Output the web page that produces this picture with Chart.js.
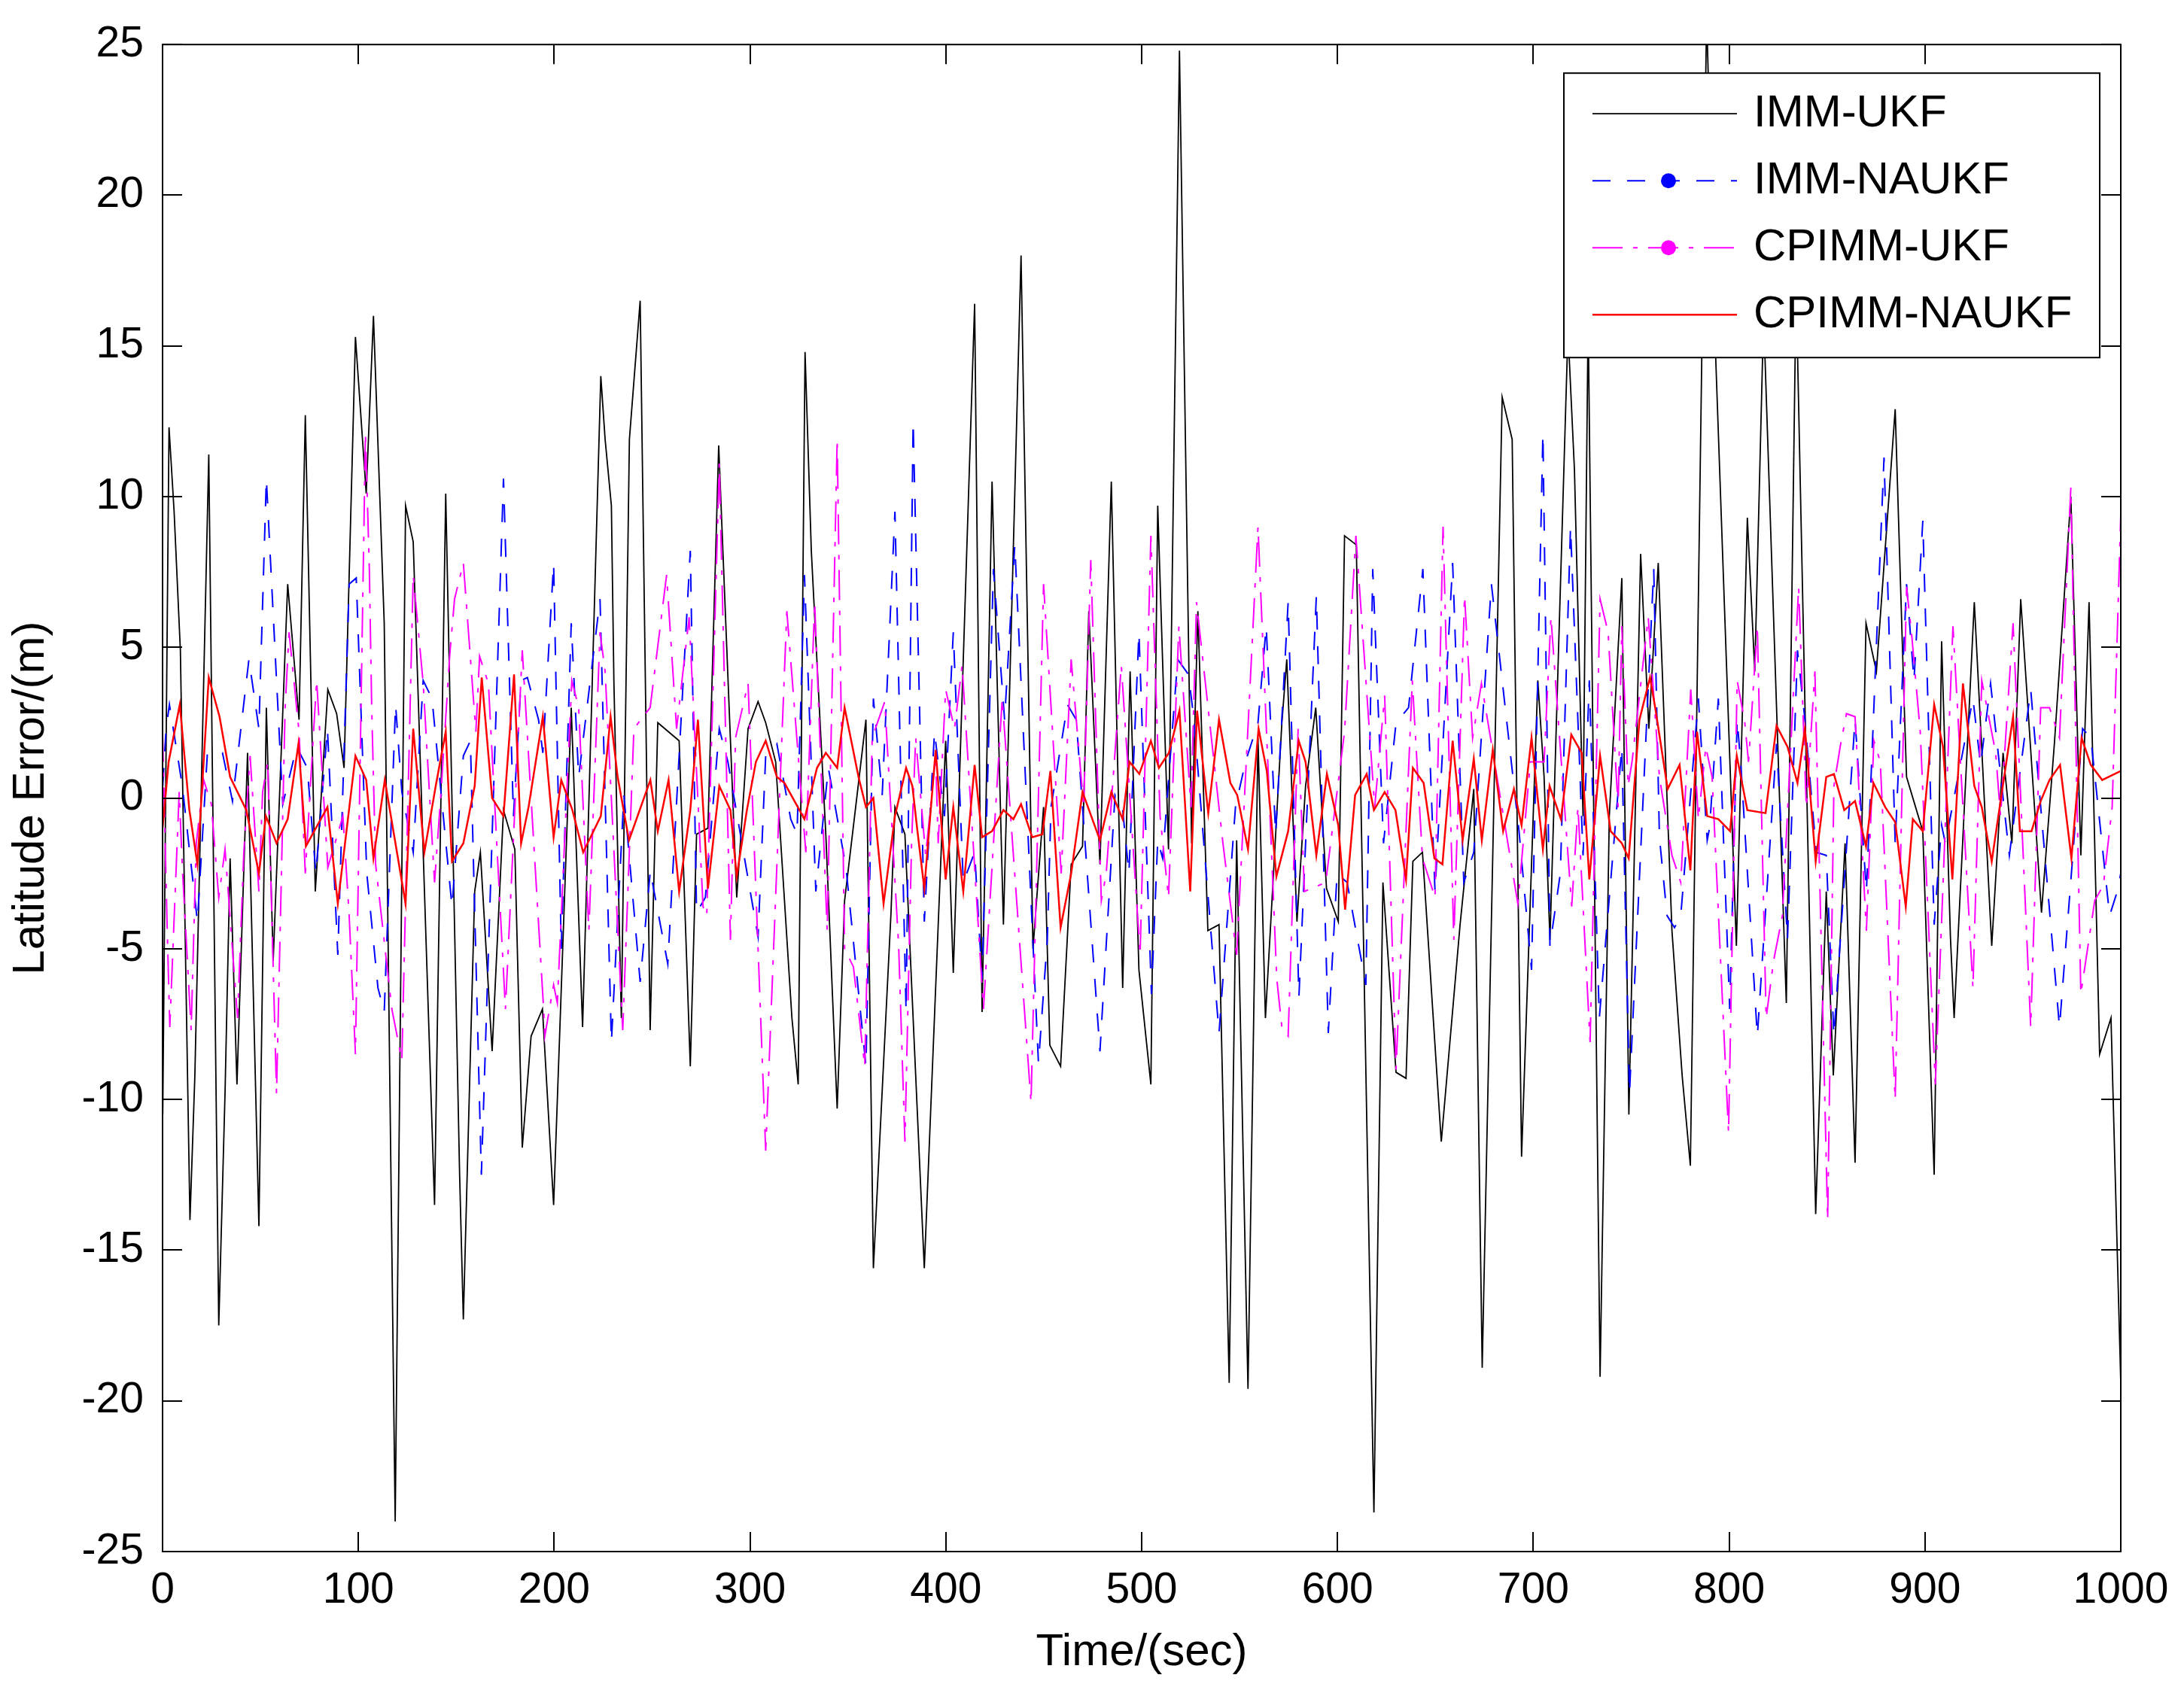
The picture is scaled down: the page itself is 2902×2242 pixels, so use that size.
<!DOCTYPE html>
<html>
<head>
<meta charset="utf-8">
<title>Latitude Error</title>
<script src="https://cdn.jsdelivr.net/npm/chart.js@4.4.1/dist/chart.umd.min.js"></script>
<style>
  html, body { margin: 0; padding: 0; background: #fff; }
  canvas { display: block; }
</style>
</head>
<body>
<canvas id="myChart" width="2902" height="2242"></canvas>
<script>
// [time (sec), latitude error (m)], vertex by vertex
var imm_ukf = [
  [0.1,-10.5],[3.3,12.3],[5.9,9.5],[9.1,4.9],[14.0,-14.0],[16.5,-9.2],[23.6,11.4],[28.7,-17.5],[31.9,-9.8],[34.5,-2.0],
  [38.0,-9.5],[43.4,1.5],[49.2,-14.2],[53.0,3.0],[56.5,-5.4],[63.9,7.1],[69.7,2.6],[72.9,12.7],[78.0,-3.1],[84.4,3.6],
  [88.9,2.8],[92.7,1.0],[98.5,15.3],[104.0,10.1],[107.7,16.0],[113.2,5.8],[118.8,-24.0],[124.1,9.7],[128.0,8.5],
  [138.9,-13.5],[144.6,10.1],[151.7,-12.5],[153.6,-17.3],[159.4,-3.1],[162.3,-1.8],[168.3,-8.4],[174.1,-0.4],[179.9,-1.7],
  [183.7,-11.6],[188.2,-7.9],[194.0,-7.0],[199.7,-13.5],[208.7,3.0],[214.5,-7.6],[223.8,14.0],[226.0,11.9],[229.2,9.7],
  [230.5,3.8],[234.3,-7.3],[238.4,11.9],[243.9,16.5],[249.0,-7.7],[252.9,2.5],
  [263.8,1.9],[269.5,-8.9],[272.7,-1.2],[278.5,-1.0],[284.0,11.7],[293.2,-3.3],[299.0,2.3],[304.1,3.2],[308.0,2.5],
  [313.1,1.2],[321.4,-7.3],[324.6,-9.5],[328.1,14.8],[331.3,8.2],[338.7,-1.2],[344.5,-10.3],[348.3,-3.4],[353.4,-0.6],
  [359.2,2.6],[363.0,-15.6],[372.0,-3.8],[374.0,-0.3],[379.1,-1.2],
  [389.0,-15.6],[399.9,1.9],[403.8,-5.8],[414.7,16.4],[418.5,-7.1],[423.6,10.5],[429.4,-4.2],[438.4,18.0],[444.5,-5.0],
  [449.9,-0.3],[453.1,-8.2],[458.6,-8.9],[464.0,-2.2],[469.8,-1.6],[473.0,6.2],[478.7,-2.2],[484.5,10.5],[490.3,-6.3],
  [494.1,4.2],[498.6,-5.7],[504.7,-9.5],[508.2,9.7],
  [513.7,-1.7],[519.3,24.8],[525.5,-1.5],[528.7,6.2],[533.8,-4.4],[539.5,-4.2],[544.7,-19.4],[548.5,-1.4],[554.3,-19.6],
  [559.4,2.0],[563.2,-7.3],[571.6,2.5],[574.1,4.6],[579.3,-4.1],[583.7,0.4],[588.9,3.0],[594.4,-3.0],[600.4,-4.1],
  [603.6,8.7],[609.6,8.4],[618.6,-23.7],[623.2,-2.8],[629.9,-9.1],[635.0,-9.3],
  [638.5,-2.1],[643.4,-1.8],[653.0,-11.4],[662.6,-4.2],[669.6,0.3],[673.9,-18.9],[684.1,13.3],[689.2,11.9],[694.0,-11.9],
  [702.3,3.9],[705.5,0.7],[708.5,-4.7],[717.7,15.5],[721.0,10.9],[725.4,-0.6],[728.0,16.0],[734.1,-19.2],[738.8,-0.6],
  [745.2,7.3],[748.8,-10.5],[754.8,8.1],[759.0,2.3],[763.8,7.8],
  [770.8,-4.4],[776.0,-9.2],[780.2,-12.2],[788.5,26.0],[793.2,14.5],[803.7,-4.9],[809.3,9.3],[813.1,4.2],[817.6,16.0],
  [829.2,-6.8],[834.2,17.0],[844.2,-13.8],[849.6,-3.1],[853.2,-9.2],[859.2,-1.5],[864.3,-12.1],[869.9,5.8],[875.2,4.2],
  [884.8,12.9],
  [889.3,3.3],[890.6,0.7],[898.9,-1.1],[904.7,-12.5],[908.5,5.2],[913.0,-4.6],[914.9,-7.3],[925.2,6.5],[934.1,-4.9],
  [939.9,1.5],[944.4,-1.5],[948.9,6.6],[959.5,-3.8],[966.2,1.9],[974.5,10.0],[979.6,-1.9],[983.8,6.5],[989.2,-8.5],
  [995.0,-7.3],[1000.0,-19.4]
];

var imm_naukf = [
  [0.1,0.4],[1.8,2.3],[3.5,3.1],[10.1,0.4],[17.8,-4.1],[22.9,1.5],[30.6,1.5],[35.7,-0.1],[44.1,4.6],[49.2,2.3],
  [53.0,10.6],[61.4,-0.2],[68.5,1.7],[73.9,1.0],[78.3,-2.5],[84.2,2.3],[89.5,-5.2],[95.3,7.1],[98.9,7.3],[104.3,-2.5],
  [110.0,-6.3],[113.2,-7.1],[119.0,3.1],[122.2,0.2],
  [128.0,-1.8],[133.1,3.9],[137.6,3.3],[147.8,-3.6],[153.6,1.4],[157.2,1.9],[162.8,-12.5],[174.1,10.6],[179.2,-0.6],
  [183.1,3.9],[186.3,4.0],[192.0,2.6],[194.2,1.5],[199.7,7.8],[203.6,-5.0],[208.7,5.8],[212.5,0.7],[223.4,6.6],
  [229.2,-8.1],[235.6,0.1],[243.9,-6.1],[249.1,-2.4],[251.0,-3.1],
  [258.0,-5.5],[269.5,8.2],[272.7,-3.8],[277.2,-3.3],[284.3,2.3],[288.7,1.2],[304.1,-4.6],[308.0,1.4],[313.7,1.8],
  [320.8,-0.7],[324.0,-1.2],[327.8,7.4],[333.6,-3.1],[340.0,1.0],[349.0,-2.3],[359.2,-8.9],[363.0,3.3],[367.5,0.1],
  [374.0,9.5],[379.7,-7.1],[383.3,12.5],
  [389.0,-4.1],[394.2,2.2],[399.3,-0.6],[403.8,5.5],[408.9,-2.8],[414.7,-1.8],[418.5,-6.0],[424.3,7.6],[430.0,2.6],
  [435.2,8.4],[447.3,-8.8],[451.8,-4.7],[453.7,-0.3],[462.1,3.1],[466.6,2.6],[478.7,-8.4],[486.4,0.1],[490.3,-0.4],
  [493.5,-2.5],[498.6,5.5],[505.0,-6.5],[508.2,-1.4],
  [510.7,-2.0],[518.4,4.6],[523.9,4.1],[526.7,2.6],[539.5,-7.8],[547.9,-0.3],[553.0,1.2],[559.4,2.5],[563.6,5.7],
  [568.4,-1.2],[574.8,6.5],[580.3,-6.6],[589.2,6.7],[595.3,-7.8],[599.8,-2.5],[604.9,-2.8],[614.5,-6.2],[618.0,7.6],
  [623.5,-1.5],[629.9,2.5],
  [636.3,3.0],[643.6,7.6],[649.8,-3.1],[658.8,7.8],[664.5,-2.8],[669.6,-1.8],[678.6,7.1],[692.7,-1.1],[699.1,-5.7],
  [704.9,12.1],[708.5,-4.9],[713.8,-2.5],[719.0,9.0],[725.4,-1.9],[728.6,3.9],[733.7,-7.3],[745.2,1.7],[749.1,-9.8],
  [761.5,7.6],
  [764.4,-1.3],[768.3,-3.9],[772.1,-4.3],[775.3,-3.9],[784.3,3.3],[788.8,-1.4],[790.0,-1.0],[794.5,3.3],[800.3,-7.0],
  [804.1,2.6],[806.0,1.1],[814.4,-7.9],[824.2,1.8],[829.8,-4.7],[834.9,4.9],[838.7,2.6],[844.5,-1.8],[849.6,-1.9],
  [853.5,-7.9],[864.3,2.6],[870.1,-3.1],[879.1,11.3],[884.8,-1.5],[890.6,7.1],
  [894.4,3.9],[898.9,9.2],[904.7,-4.2],[908.5,-0.9],[910.4,-1.5],[924.5,3.3],[928.4,1.1],[933.5,3.8],[943.1,-1.9],
  [954.0,3.6],[968.7,-7.6],[980.5,2.3],[984.7,2.0],[994.3,-3.9],[998.2,-3.1],[1000.0,-2.5]
];

var cpimm_ukf = [
  [0.0,2.2],[2.4,-4.4],[3.7,-7.6],[5.3,-5.0],[8.5,0.2],[10.1,-2.3],[14.6,-7.7],[17.2,-1.5],[21.0,0.6],[24.9,-0.2],
  [28.7,-3.3],[31.9,-1.7],[38.3,-7.3],[41.5,-1.8],[44.7,1.4],[49.2,-3.1],[51.1,0.2],[53.7,1.2],[58.2,-9.8],[62.6,3.0],
  [64.6,5.5],[69.7,2.2],[72.9,-2.5],[77.4,2.5],[78.7,3.9],[84.4,-2.3],[92.1,-0.6],[95.3,-3.9],[98.5,-8.5],[103.6,12.1],
  [105.6,7.6],[106.8,3.0],[108.8,-2.2],[117.1,-7.0],[122.2,-8.7],[128.0,7.4],
  [133.1,3.8],[138.9,-2.8],[142.1,0.1],[146.6,4.7],[149.1,6.6],[153.6,7.8],[160.0,2.2],[161.9,4.7],[166.4,3.8],
  [175.1,-7.0],[183.7,4.9],[194.6,-7.0],[195.2,-7.9],[199.7,-6.2],[201.6,-6.8],[209.0,3.9],[212.5,3.0],[217.7,-4.4],
  [223.4,5.5],[226.0,4.2],[235.0,-7.7],[240.7,2.3],[249.0,3.0],
  [257.4,7.4],[262.5,2.3],[268.9,6.0],[276.0,-3.6],[277.9,-3.9],[284.3,11.1],[290.0,-4.7],[292.6,2.0],[299.0,3.8],
  [308.0,-11.7],[318.8,6.2],[328.5,-1.8],[333.0,6.5],[339.4,-4.4],[344.5,11.9],[348.3,-5.0],[352.8,-5.6],[358.6,-8.9],
  [362.4,2.0],[368.8,3.2],[375.9,-4.9],[379.1,-11.4],
  [382.5,-1.5],[384.6,2.0],[389.7,-1.9],[394.8,1.4],[396.1,-1.5],[399.9,3.6],[404.4,2.3],[408.3,4.4],[419.2,-7.0],
  [428.8,3.3],[443.5,-10.1],[449.9,7.1],[458.9,-2.5],[464.0,4.6],[470.4,-0.3],[474.0,7.9],[479.4,-3.4],[481.9,-2.5],
  [489.6,4.4],[499.2,-5.2],[504.7,8.7],
  [509.4,-0.6],[513.7,-3.3],[519.0,5.7],[522.3,2.5],[525.2,-0.3],[528.0,6.5],[541.5,-1.5],[548.5,-5.2],[559.4,9.0],
  [569.0,-6.0],[571.6,-7.6],[574.8,-7.9],[579.9,2.3],[583.1,-3.1],[594.0,-2.8],[603.6,2.2],[609.4,8.7],[619.0,-0.3],
  [624.1,3.4],[629.9,-9.0],[638.2,3.9],
  [643.4,-2.0],[649.8,-3.3],[653.9,9.0],[659.4,-4.7],[664.9,6.7],[669.0,2.0],[673.5,3.8],[676.1,2.8],[692.1,-3.5],
  [698.5,1.2],[705.5,1.2],[709.0,6.0],[719.6,-3.6],[722.8,-0.3],[729.0,-8.1],[734.1,6.6],[738.2,5.5],[743.3,-0.3],
  [745.2,5.7],[748.4,0.4],[750.4,1.2],[758.7,6.0],[764.4,0.7],
  [770.8,-1.9],[775.3,-2.8],[780.4,3.6],[784.3,-0.7],[788.1,1.7],[791.3,0.7],[799.7,-11.1],[804.1,3.9],[808.0,2.5],
  [809.9,1.2],[814.4,5.7],[818.9,-7.3],[822.7,-5.4],[827.2,-3.9],[835.5,7.0],[839.4,-0.3],[843.8,4.2],[850.3,-14.0],
  [853.5,0.4],[856.7,1.7],[859.9,2.8],[864.3,2.7],[870.1,-4.4],[873.9,1.9],[877.2,1.2],[884.8,-10.0],[890.6,7.0],
  [893.1,5.5],[897.6,2.2],[905.3,-9.5],[914.3,5.7],[924.5,-6.3],[929.0,3.9],[936.1,1.5],[938.6,-0.6],[945.0,5.8],
  [954.0,-7.6],[959.1,3.0],[963.6,3.0],[968.7,2.0],[974.5,10.3],[979.6,-6.5],[986.7,-3.4],[991.1,-2.9],[995.6,-0.3],
  [1000.0,9.4]
];

var cpimm_naukf = [
  [0.0,-1.0],[3.1,1.2],[8.8,3.1],[13.7,-0.4],[17.8,-2.2],[23.6,4.0],[29.1,2.7],[34.5,0.7],[42.8,-0.4],[49.2,-2.5],
  [52.8,-0.6],[58.2,-1.5],[63.9,-0.7],[69.4,1.8],[73.2,-1.6],[84.2,-0.3],[89.5,-3.5],[98.5,1.4],[104.0,0.6],[107.7,-2.0],
  [113.5,0.6],[124.1,-3.5],[128.0,2.3],
  [133.7,-1.8],[139.5,0.4],[144.6,2.2],[147.8,-2.1],[153.6,-1.5],[159.4,0.4],[163.0,4.0],[168.3,0.0],[174.1,-0.6],
  [179.5,4.1],[183.1,-1.5],[186.9,-0.3],[194.2,2.7],[199.7,-1.3],[203.6,0.6],[209.3,-0.4],[214.8,-1.8],[223.8,-0.6],
  [228.8,2.7],[232.4,0.7],[238.2,-1.4],[249.1,0.6],[252.9,-1.1],
  [258.4,0.6],[263.8,-3.1],[269.5,-0.4],[273.4,2.6],[278.5,-3.0],[284.3,0.4],[290.0,-0.4],[293.2,-2.6],[298.4,-0.4],
  [303.0,1.2],[308.0,1.9],[313.7,0.7],[317.6,0.5],[327.8,-0.7],[334.2,1.0],[338.7,1.5],[344.5,1.0],[348.3,3.0],
  [355.4,0.7],[359.2,-0.3],[363.0,0.0],[368.2,-3.5],[374.0,-0.6],[379.7,1.0],[382.9,0.4],[385.5,-1.1],
  [389.0,-3.0],[394.8,1.6],[399.9,-2.7],[403.8,-0.3],[408.9,-3.1],[414.7,1.1],[418.5,-1.3],[423.6,-1.1],[429.4,-0.4],
  [434.5,-0.7],[438.4,-0.2],[444.1,-1.3],[449.3,-1.2],[453.4,0.9],[458.6,-4.3],[464.0,-2.5],[469.8,0.2],[478.7,-1.4],
  [484.5,0.2],[490.3,-0.7],[493.8,1.2],[498.8,0.8],[504.7,1.9],[508.8,1.0],
  [513.9,1.5],[519.3,2.9],[524.8,-3.1],[528.3,2.9],[534.0,-0.5],[539.5,2.6],[545.3,0.5],[548.8,0.1],[554.3,-1.7],
  [559.7,2.3],[563.9,0.9],[568.8,-2.6],[574.8,-1.1],[580.2,1.9],[583.7,1.2],[589.2,-1.9],[594.6,0.8],[600.4,-0.9],
  [603.9,-3.7],[609.0,0.1],[614.9,0.8],[618.6,-0.4],[624.1,0.2],[629.6,-0.4],[635.0,-2.7],
  [638.5,1.0],[644.0,0.5],[649.5,-2.0],[653.6,-2.2],[658.8,1.9],[663.9,-1.4],[669.6,1.3],[673.7,-1.4],[679.3,1.6],
  [684.6,-1.1],[690.1,0.3],[694.0,-0.9],[699.1,2.0],[704.9,-1.7],[708.3,0.4],[714.1,-0.7],[719.4,2.1],[724.7,1.5],
  [728.6,-2.7],[734.1,1.4],[739.5,-1.1],[745.2,-1.5],[748.7,-2.0],[754.2,2.6],[759.6,4.0],
  [762.5,2.9],[768.6,0.3],[774.7,1.1],[780.2,-2.4],[783.6,2.2],[788.8,-0.6],[794.5,-0.7],[800.5,-1.1],[803.9,1.4],
  [809.3,-0.4],[818.6,-0.5],[824.2,2.4],[829.8,1.7],[834.9,0.5],[838.7,2.3],[844.2,-2.1],[849.6,0.7],[853.5,0.8],
  [858.8,-0.4],[864.3,-0.1],[869.9,-1.6],[873.7,0.5],[879.7,-0.3],[884.8,-0.8],[890.2,-3.6],
  [893.8,-0.7],[898.9,-1.1],[904.7,3.1],[909.2,1.7],[914.0,-2.7],[919.4,3.8],[925.2,0.4],[929.0,-0.3],[934.1,-2.1],
  [938.6,-0.1],[945.0,2.7],[948.5,-1.1],[954.4,-1.1],[959.1,-0.1],[963.6,0.6],[969.0,1.1],[974.8,-2.0],[980.0,2.0],
  [984.7,1.1],[990.5,0.6],[1000.0,0.9]
];

var seriesNames = ['IMM-UKF', 'IMM-NAUKF', 'CPIMM-UKF', 'CPIMM-NAUKF'];
var timeTicks = [0, 100, 200, 300, 400, 500, 600, 700, 800, 900, 1000];
var errorTicks = [-25, -20, -15, -10, -5, 0, 5, 10, 15, 20, 25];

var FONT = '"Liberation Sans", Arial, Helvetica, sans-serif';
Chart.defaults.font.family = FONT;
Chart.defaults.color = '#000';

function toXY(pairs) {
    return pairs.map(function (p) { return { x: p[0], y: p[1] }; });
}

// MATLAB style box with inward ticks on all four sides
var axesBox = {
    id: 'axesBox',
    afterDatasetsDraw: function (chart) {
        var a = chart.chartArea, ctx = chart.ctx;
        var xs = chart.scales.x, ys = chart.scales.y;
        var len = 26;
        ctx.save();
        ctx.strokeStyle = '#000';
        ctx.lineWidth = 2;
        ctx.beginPath();
        xs.ticks.forEach(function (t) {
            var px = Math.round(xs.getPixelForValue(t.value));
            ctx.moveTo(px, a.bottom); ctx.lineTo(px, a.bottom - len);
            ctx.moveTo(px, a.top); ctx.lineTo(px, a.top + len);
        });
        ys.ticks.forEach(function (t) {
            var py = Math.round(ys.getPixelForValue(t.value));
            ctx.moveTo(a.left, py); ctx.lineTo(a.left + len, py);
            ctx.moveTo(a.right, py); ctx.lineTo(a.right - len, py);
        });
        ctx.stroke();
        ctx.strokeRect(a.left, a.top, a.right - a.left, a.bottom - a.top);
        ctx.restore();
    }
};

// boxed legend in the upper right corner of the axes
var legendBox = {
    id: 'legendBox',
    afterDatasetsDraw: function (chart) {
        var a = chart.chartArea, ctx = chart.ctx;
        var w = 712, h = 378;
        var left = a.right - 28 - w, top = a.top + 38;
        ctx.save();
        ctx.fillStyle = '#fff';
        ctx.fillRect(left, top, w, h);
        ctx.lineWidth = 2;
        ctx.strokeStyle = '#000';
        ctx.strokeRect(left, top, w, h);
        chart.data.datasets.forEach(function (ds, i) {
            var yy = top + 54 + i * 89;
            ctx.strokeStyle = ds.borderColor;
            ctx.lineWidth = ds.borderWidth;
            ctx.setLineDash(ds.borderDash || []);
            ctx.beginPath();
            ctx.moveTo(left + 38, yy);
            ctx.lineTo(left + 230, yy);
            ctx.stroke();
            ctx.setLineDash([]);
            if (ds.legendDot) {
                ctx.fillStyle = ds.borderColor;
                ctx.beginPath();
                ctx.arc(left + 139, yy, 10, 0, 2 * Math.PI);
                ctx.fill();
            }
            ctx.fillStyle = '#000';
            ctx.font = '60px ' + FONT;
            ctx.textBaseline = 'middle';
            ctx.textAlign = 'left';
            ctx.fillText(ds.label, left + 252, yy);
        });
        ctx.restore();
    }
};

var ctx = document.getElementById('myChart').getContext('2d');

var myChart = new Chart(ctx, {
    type: 'line',
    data: {
        datasets: [{
            label: seriesNames[0],
            data: toXY(imm_ukf),
            borderColor: '#000000',
            borderWidth: 1.8,
            order: 4
        }, {
            label: seriesNames[1],
            data: toXY(imm_naukf),
            borderColor: '#0000ff',
            borderWidth: 2,
            borderDash: [24, 22],
            legendDot: true,
            order: 3
        }, {
            label: seriesNames[2],
            data: toXY(cpimm_ukf),
            borderColor: '#ff00ff',
            borderWidth: 2,
            borderDash: [40, 14, 6, 14],
            legendDot: true,
            order: 2
        }, {
            label: seriesNames[3],
            data: toXY(cpimm_naukf),
            borderColor: '#ff0000',
            borderWidth: 2.5,
            order: 1
        }]
    },
    options: {
        responsive: false,
        devicePixelRatio: 1,
        animation: false,
        events: [],
        layout: { padding: { left: 0, top: 55, right: 84, bottom: 0 } },
        elements: {
            point: { radius: 0 },
            line: { tension: 0, fill: false }
        },
        plugins: {
            legend: { display: false },
            tooltip: { enabled: false }
        },
        scales: {
            x: {
                type: 'linear',
                min: 0,
                max: 1000,
                afterBuildTicks: function (scale) {
                    scale.ticks = timeTicks.map(function (v) { return { value: v }; });
                },
                afterFit: function (scale) { scale.height = 180; },
                grid: { display: false, drawTicks: false },
                border: { display: false },
                ticks: {
                    color: '#000',
                    font: { size: 57 },
                    padding: 18,
                    maxRotation: 0,
                    autoSkip: false,
                    callback: function (v) { return String(v); }
                },
                title: {
                    display: true,
                    text: 'Time/(sec)',
                    color: '#000',
                    font: { size: 60 },
                    padding: { top: 0, bottom: 10 }
                }
            },
            y: {
                type: 'linear',
                min: -25,
                max: 25,
                afterBuildTicks: function (scale) {
                    scale.ticks = errorTicks.map(function (v) { return { value: v }; });
                },
                afterFit: function (scale) { scale.width = 216; },
                grid: { display: false, drawTicks: false },
                border: { display: false },
                ticks: {
                    color: '#000',
                    font: { size: 57 },
                    padding: 25,
                    autoSkip: false,
                    callback: function (v) { return String(v); }
                },
                title: {
                    display: true,
                    text: 'Latitude Error/(m)',
                    color: '#000',
                    font: { size: 60 },
                    padding: { top: 5, bottom: 0 }
                }
            }
        }
    },
    plugins: [axesBox, legendBox]
});
</script>
</body>
</html>
